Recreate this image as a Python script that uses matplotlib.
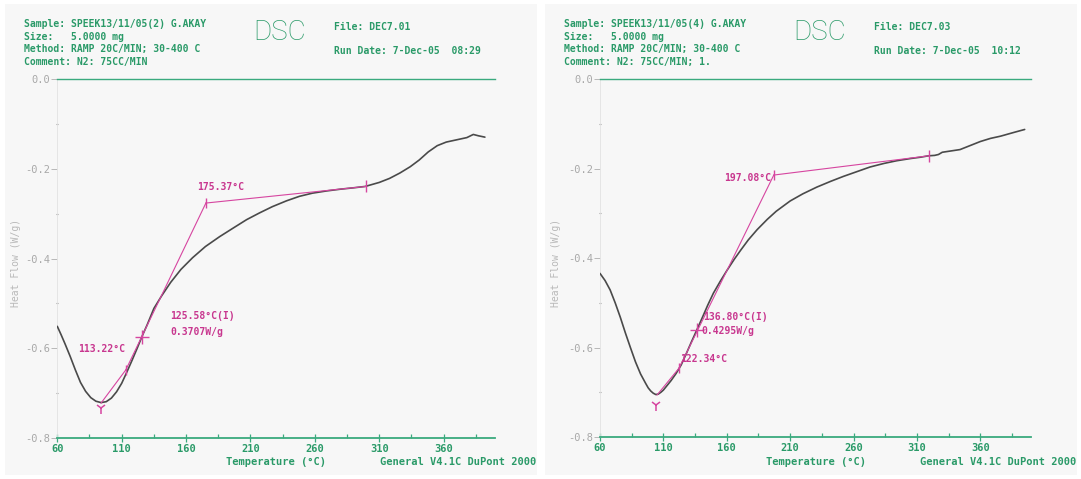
import matplotlib
matplotlib.use("Agg")
import matplotlib.pyplot as plt
from matplotlib.patches import Rectangle

# ---------------- data ----------------
left_T = [60, 63, 66, 70, 74, 78, 82, 86, 90, 94, 98, 102, 106, 110, 114, 118, 122,
          126, 130, 135, 141, 148, 156, 165, 175, 186, 197, 207, 217, 227, 238, 248,
          258, 269, 280, 290, 299, 310, 318, 326, 334, 341, 348, 355, 362, 370, 378,
          383, 387, 392]
left_HF = [-0.551, -0.570, -0.590, -0.618, -0.648, -0.676, -0.696, -0.710, -0.718,
           -0.721, -0.719, -0.711, -0.697, -0.678, -0.653, -0.627, -0.600, -0.572,
           -0.546, -0.511, -0.483, -0.453, -0.424, -0.398, -0.373, -0.351, -0.331,
           -0.313, -0.298, -0.284, -0.271, -0.261, -0.254, -0.249, -0.245, -0.242,
           -0.239, -0.230, -0.221, -0.209, -0.195, -0.180, -0.162, -0.148, -0.140,
           -0.135, -0.130, -0.123, -0.126, -0.129]

right_T = [60, 64, 68, 72, 76, 80, 84, 88, 92, 96, 98, 100, 102, 104, 106, 108, 110,
           112, 116, 120, 124, 128, 132, 136.3, 141, 145, 149.5, 155, 160, 166, 171,
           177, 184, 192, 199, 210, 220, 231, 242, 252, 263, 273, 284, 294, 305, 313,
           319, 324, 327, 330, 337, 344, 352, 360, 368, 376, 386, 395]
right_HF = [-0.434, -0.450, -0.471, -0.500, -0.532, -0.567, -0.600, -0.632, -0.659,
            -0.680, -0.690, -0.697, -0.702, -0.705, -0.704, -0.700, -0.695, -0.688,
            -0.674, -0.658, -0.639, -0.614, -0.588, -0.561, -0.531, -0.505, -0.478,
            -0.451, -0.428, -0.402, -0.382, -0.359, -0.336, -0.313, -0.295, -0.272,
            -0.256, -0.241, -0.228, -0.217, -0.206, -0.196, -0.188, -0.182, -0.177,
            -0.174, -0.171, -0.170, -0.168, -0.163, -0.160, -0.157, -0.148, -0.139,
            -0.132, -0.127, -0.119, -0.112]

# analysis points
left_lim_low = (94.0, -0.722)
left_Ymark = (93.8, -0.733)
left_onset = (113.22, -0.648)
left_infl = (125.58, -0.574)
left_end = (175.37, -0.276)
left_lim_high = (299.5, -0.239)

right_lim_low = (105.0, -0.706)
right_Ymark = (103.9, -0.728)
right_onset = (122.34, -0.646)
right_infl = (136.80, -0.561)
right_end = (197.08, -0.214)
right_lim_high = (319.2, -0.171)

x_ticks = [60, 110, 160, 210, 260, 310, 360]
x_minor = [85, 135, 185, 235, 285, 335, 385]
y_ticks = [0.0, -0.2, -0.4, -0.6, -0.8]
y_ticklabels = ["0.0", "-0.2", "-0.4", "-0.6", "-0.8"]
y_minor = [-0.1, -0.3, -0.5, -0.7]

left_header = ["Sample: SPEEK13/11/05(2) G.AKAY", "Size:   5.0000 mg",
               "Method: RAMP 20C/MIN; 30-400 C", "Comment: N2: 75CC/MIN"]
right_header = ["Sample: SPEEK13/11/05(4) G.AKAY", "Size:   5.0000 mg",
                "Method: RAMP 20C/MIN; 30-400 C", "Comment: N2: 75CC/MIN; 1."]
left_file = "File: DEC7.01"
right_file = "File: DEC7.03"
left_date = "Run Date: 7-Dec-05  08:29"
right_date = "Run Date: 7-Dec-05  10:12"

# ---------------- style ----------------
W, H = 1081, 479
GREEN_T = "#2a9a68"
GREEN_L = "#3aaa7e"
PINK = "#d645a0"
PINK_T = "#c8378f"
CURVE = "#4a4a4a"
GREY_T = "#a8a8a8"
MONO = "DejaVu Sans Mono"

fig = plt.figure(figsize=(W / 100, H / 100), dpi=100)
fig.patch.set_facecolor("white")
for x0 in (5, 545):
    fig.patches.append(Rectangle((x0 / W, 4 / H), 532 / W, 471 / H,
                                 transform=fig.transFigure, facecolor="#f7f7f7",
                                 edgecolor="none", zorder=-10))


def fx(x):
    return x / W


def fy(y):
    return 1 - y / H


def make_panel(px_left, px_right, py_top, py_bot, xoff, T, HF, lim_low, Ymark,
               onset, infl, end, lim_high, header, file_txt, date_txt, labels):
    ax = fig.add_axes([fx(px_left), fy(py_bot), (px_right - px_left) / W,
                       (py_bot - py_top) / H])
    ax.set_facecolor("none")
    ax.set_xlim(60, 400)
    ax.set_ylim(-0.8, 0)
    ax.plot(T, HF, color=CURVE, lw=1.2, zorder=3, solid_capstyle="round",
            solid_joinstyle="round")

    # analysis lines
    ax.plot([lim_low[0], onset[0]], [lim_low[1], onset[1]], color=PINK, lw=0.8, zorder=4)
    ax.plot([onset[0], end[0]], [onset[1], end[1]], color=PINK, lw=0.8, zorder=4)
    ax.plot([end[0], lim_high[0]], [end[1], lim_high[1]], color=PINK, lw=0.8, zorder=4)
    ax.plot([Ymark[0]], [Ymark[1]], marker="1", ms=8, mew=1.1, color=PINK, zorder=5)
    ax.plot([onset[0]], [onset[1]], marker="|", ms=7, mew=1.0, color=PINK, zorder=5)
    ax.plot([infl[0]], [infl[1]], marker="+", ms=10, mew=1.0, color=PINK, zorder=5)
    ax.plot([end[0]], [end[1]], marker="|", ms=7, mew=1.0, color=PINK, zorder=5)
    ax.plot([lim_high[0]], [lim_high[1]], marker="|", ms=9, mew=1.0, color=PINK, zorder=5)
    for (tx, ty, s, ha) in labels:
        ax.text(tx, ty, s, ha=ha, va="center", color=PINK_T, fontsize=7,
                family=MONO, fontweight="bold", zorder=6)

    # axes styling
    ax.set_xticks(x_ticks)
    ax.set_xticklabels([str(v) for v in x_ticks])
    ax.set_xticks(x_minor, minor=True)
    ax.set_yticks(y_ticks)
    ax.set_yticklabels(y_ticklabels)
    ax.set_yticks(y_minor, minor=True)
    ax.tick_params(axis="x", which="major", direction="inout", length=6, width=0.9,
                   color=GREEN_L, labelcolor=GREEN_T, labelsize=7.5, pad=1)
    ax.tick_params(axis="x", which="minor", direction="in", length=3, width=0.9,
                   color=GREEN_L)
    ax.tick_params(axis="y", which="major", direction="out", length=4, width=0.7,
                   color="#b8b8b8", labelcolor=GREY_T, labelsize=7.5, pad=1)
    ax.tick_params(axis="y", which="minor", direction="inout", length=2, width=0.8,
                   color="#999999")
    for lab in ax.get_xticklabels():
        lab.set_family(MONO)
        lab.set_fontweight("bold")
    for lab in ax.get_yticklabels():
        lab.set_family(MONO)
    ax.spines["right"].set_visible(False)
    ax.spines["left"].set_color("#e2e2e2")
    ax.spines["left"].set_linewidth(0.6)
    ax.spines["top"].set_color(GREEN_L)
    ax.spines["top"].set_linewidth(1.0)
    ax.spines["bottom"].set_color(GREEN_L)
    ax.spines["bottom"].set_linewidth(1.3)

    # header texts
    for i, line in enumerate(header):
        fig.text(fx(xoff + 23.5), fy(24 + i * 12.6), line, ha="left", va="center",
                 color=GREEN_T, fontsize=7, family=MONO, fontweight="bold")
    fig.text(fx(xoff + 280), fy(33), "DSC", ha="center", va="center",
             color="#2a9a68", fontsize=20, family=["Roboto", "DejaVu Sans"],
             fontweight="light")
    fig.text(fx(xoff + 334), fy(27), file_txt, ha="left", va="center",
             color=GREEN_T, fontsize=7, family=MONO, fontweight="bold")
    fig.text(fx(xoff + 334), fy(51), date_txt, ha="left", va="center",
             color=GREEN_T, fontsize=7, family=MONO, fontweight="bold")
    fig.text(fx(xoff + 16), fy(263), "Heat Flow (W/g)", ha="center", va="center",
             rotation=90, color="#b8b8b8", fontsize=7, family=MONO)
    fig.text(fx(xoff + 276), fy(462), "Temperature (\u00b0C)", ha="center",
             va="center", color=GREEN_T, fontsize=7.5, family=MONO, fontweight="bold")
    fig.text(fx(xoff + 536), fy(462), "General V4.1C DuPont 2000", ha="right",
             va="center", color=GREEN_T, fontsize=7.5, family=MONO, fontweight="bold")
    return ax


left_labels = [(168.5, -0.241, "175.37\u00b0C", "left"),
               (147.7, -0.529, "125.58\u00b0C(I)", "left"),
               (147.7, -0.564, "0.3707W/g", "left"),
               (76.3, -0.602, "113.22\u00b0C", "left")]
right_labels = [(195.3, -0.221, "197.08\u00b0C", "right"),
                (141.5, -0.531, "136.80\u00b0C(I)", "left"),
                (140.3, -0.563, "0.4295W/g", "left"),
                (123.1, -0.626, "122.34\u00b0C", "left")]

make_panel(57.3, 495.2, 79.3, 438.0, 0, left_T, left_HF, left_lim_low, left_Ymark,
           left_onset, left_infl, left_end, left_lim_high, left_header, left_file,
           left_date, left_labels)
make_panel(600.0, 1031.0, 79.4, 437.0, 540, right_T, right_HF, right_lim_low,
           right_Ymark, right_onset, right_infl, right_end, right_lim_high,
           right_header, right_file, right_date, right_labels)

fig.savefig("out.png", dpi=100, facecolor=fig.get_facecolor())
